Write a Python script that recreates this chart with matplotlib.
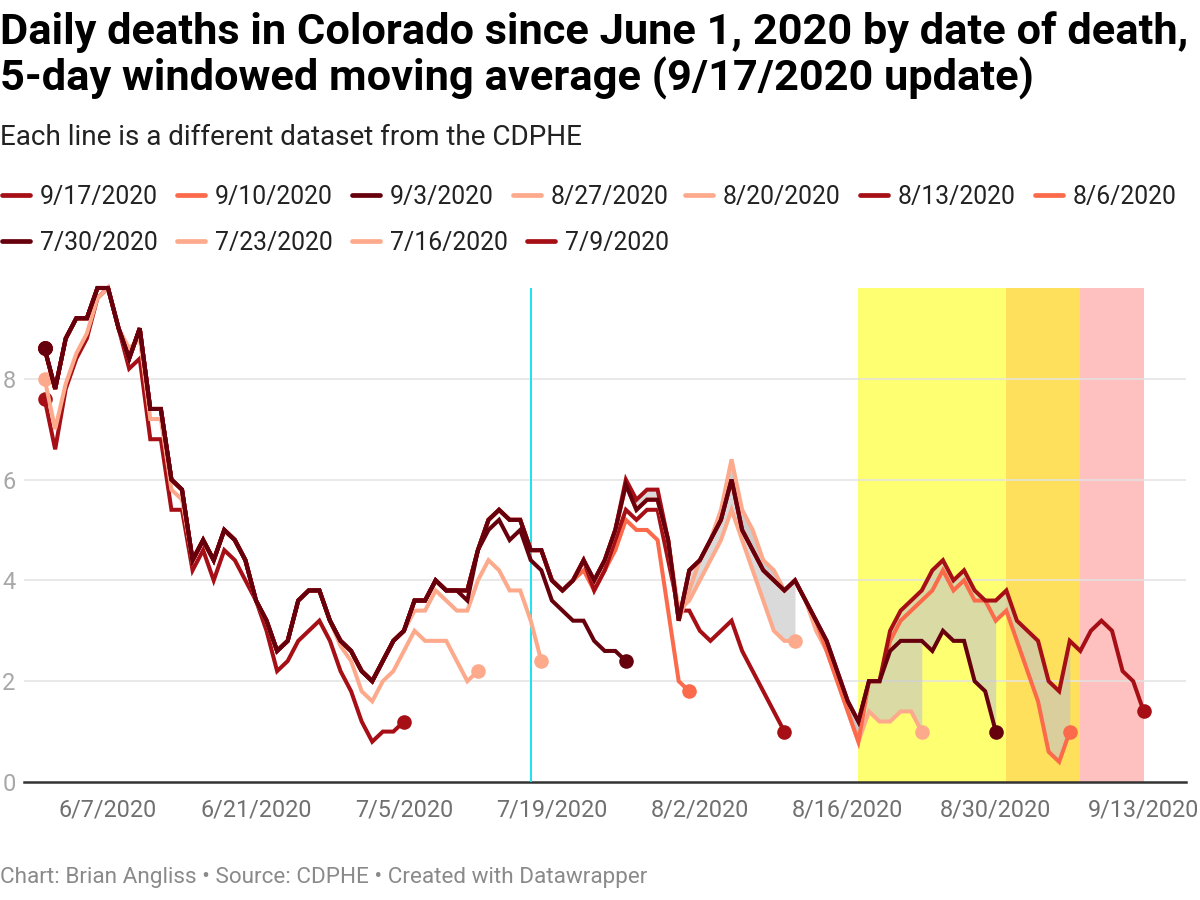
import matplotlib
matplotlib.use("Agg")
import matplotlib.pyplot as plt
import matplotlib.dates as mdates
from matplotlib.lines import Line2D
import pandas as pd

plt.rcParams['font.family'] = ['Roboto', 'DejaVu Sans']

# ---------------- data ----------------
start_date = "2020-06-01"

release_labels = ["9/17/2020", "9/10/2020", "9/3/2020", "8/27/2020", "8/20/2020",
                  "8/13/2020", "8/6/2020", "7/30/2020", "7/23/2020", "7/16/2020", "7/9/2020"]

s0917 = [8.6, 7.8, 8.8, 9.2, 9.2, 9.8, 9.8, 9.0, 8.4, 9.0,
         7.4, 7.4, 6.0, 5.8, 4.4, 4.8, 4.4, 5.0, 4.8, 4.4,
         3.6, 3.2, 2.6, 2.8, 3.6, 3.8, 3.8, 3.2, 2.8, 2.6,
         2.2, 2.0, 2.4, 2.8, 3.0, 3.6, 3.6, 4.0, 3.8, 3.8,
         3.8, 4.6, 5.2, 5.4, 5.2, 5.2, 4.6, 4.6, 4.0, 3.8,
         4.0, 4.4, 4.0, 4.4, 5.0, 6.0, 5.6, 5.8, 5.8, 4.8,
         3.2, 4.2, 4.4, 4.8, 5.2, 6.0, 5.0, 4.6, 4.2, 4.0,
         3.8, 4.0, 3.6, 3.2, 2.8, 2.2, 1.6, 1.2, 2.0, 2.0,
         3.0, 3.4, 3.6, 3.8, 4.2, 4.4, 4.0, 4.2, 3.8, 3.6,
         3.6, 3.8, 3.2, 3.0, 2.8, 2.0, 1.8, 2.8, 2.6, 3.0,
         3.2, 3.0, 2.2, 2.0, 1.4]

s0910 = [8.6, 7.8, 8.8, 9.2, 9.2, 9.8, 9.8, 9.0, 8.4, 9.0,
         7.4, 7.4, 6.0, 5.8, 4.4, 4.8, 4.4, 5.0, 4.8, 4.4,
         3.6, 3.2, 2.6, 2.8, 3.6, 3.8, 3.8, 3.2, 2.8, 2.6,
         2.2, 2.0, 2.4, 2.8, 3.0, 3.6, 3.6, 4.0, 3.8, 3.8,
         3.8, 4.6, 5.2, 5.4, 5.2, 5.2, 4.6, 4.6, 4.0, 3.8,
         4.0, 4.4, 4.0, 4.4, 5.0, 5.9, 5.4, 5.6, 5.6, 4.8,
         3.2, 4.2, 4.4, 4.8, 5.2, 6.0, 5.0, 4.6, 4.2, 4.0,
         3.8, 4.0, 3.6, 3.2, 2.6, 2.0, 1.4, 0.8, 2.0, 2.0,
         2.8, 3.2, 3.4, 3.6, 3.8, 4.2, 3.8, 4.0, 3.6, 3.6,
         3.2, 3.4, 2.8, 2.2, 1.6, 0.6, 0.4, 1.0]

s0903 = [8.6, 7.8, 8.8, 9.2, 9.2, 9.8, 9.8, 9.0, 8.4, 9.0,
         7.4, 7.4, 6.0, 5.8, 4.4, 4.8, 4.4, 5.0, 4.8, 4.4,
         3.6, 3.2, 2.6, 2.8, 3.6, 3.8, 3.8, 3.2, 2.8, 2.6,
         2.2, 2.0, 2.4, 2.8, 3.0, 3.6, 3.6, 4.0, 3.8, 3.8,
         3.8, 4.6, 5.2, 5.4, 5.2, 5.2, 4.6, 4.6, 4.0, 3.8,
         4.0, 4.4, 4.0, 4.4, 5.0, 5.9, 5.4, 5.6, 5.6, 4.8,
         3.2, 4.2, 4.4, 4.8, 5.2, 6.0, 5.0, 4.6, 4.2, 4.0,
         3.8, 4.0, 3.6, 3.2, 2.8, 2.2, 1.6, 1.2, 2.0, 2.0,
         2.6, 2.8, 2.8, 2.8, 2.6, 3.0, 2.8, 2.8, 2.0, 1.8,
         1.0]

s0827 = [8.6, 7.8, 8.8, 9.2, 9.2, 9.8, 9.8, 9.0, 8.4, 9.0,
         7.4, 7.4, 6.0, 5.8, 4.4, 4.8, 4.4, 5.0, 4.8, 4.4,
         3.6, 3.2, 2.6, 2.8, 3.6, 3.8, 3.8, 3.2, 2.8, 2.6,
         2.2, 2.0, 2.4, 2.8, 3.0, 3.6, 3.6, 4.0, 3.8, 3.8,
         3.8, 4.6, 5.2, 5.4, 5.2, 5.2, 4.6, 4.6, 4.0, 3.8,
         4.0, 4.4, 4.0, 4.4, 5.0, 5.9, 5.4, 5.6, 5.6, 4.8,
         3.2, 3.8, 4.4, 4.8, 5.4, 6.4, 5.4, 5.0, 4.4, 4.2,
         3.8, 4.0, 3.6, 3.0, 2.6, 2.0, 1.4, 0.8, 1.4, 1.2,
         1.2, 1.4, 1.4, 1.0]

s0820 = [8.6, 7.8, 8.8, 9.2, 9.2, 9.8, 9.8, 9.0, 8.4, 9.0,
         7.4, 7.4, 6.0, 5.8, 4.4, 4.8, 4.4, 5.0, 4.8, 4.4,
         3.6, 3.2, 2.6, 2.8, 3.6, 3.8, 3.8, 3.2, 2.8, 2.6,
         2.2, 2.0, 2.4, 2.8, 3.0, 3.6, 3.6, 4.0, 3.8, 3.8,
         3.8, 4.6, 5.2, 5.4, 5.2, 5.2, 4.6, 4.6, 4.0, 3.8,
         4.0, 4.4, 4.0, 4.4, 5.0, 5.9, 5.4, 5.6, 5.6, 4.8,
         3.4, 3.6, 4.0, 4.4, 4.8, 5.4, 4.8, 4.2, 3.6, 3.0,
         2.8, 2.8]

s0813 = [8.6, 7.8, 8.8, 9.2, 9.2, 9.8, 9.8, 9.0, 8.4, 9.0,
         7.4, 7.4, 6.0, 5.8, 4.4, 4.8, 4.4, 5.0, 4.8, 4.4,
         3.6, 3.2, 2.6, 2.8, 3.6, 3.8, 3.8, 3.2, 2.8, 2.6,
         2.2, 2.0, 2.4, 2.8, 3.0, 3.6, 3.6, 4.0, 3.8, 3.8,
         3.8, 4.6, 5.2, 5.4, 5.2, 5.2, 4.6, 4.6, 4.0, 3.8,
         4.0, 4.4, 3.8, 4.2, 4.8, 5.4, 5.2, 5.4, 5.4, 4.4,
         3.4, 3.4, 3.0, 2.8, 3.0, 3.2, 2.6, 2.2, 1.8, 1.4,
         1.0]

s0806 = [8.6, 7.8, 8.8, 9.2, 9.2, 9.8, 9.8, 9.0, 8.4, 9.0,
         7.4, 7.4, 6.0, 5.8, 4.4, 4.8, 4.4, 5.0, 4.8, 4.4,
         3.6, 3.2, 2.6, 2.8, 3.6, 3.8, 3.8, 3.2, 2.8, 2.6,
         2.2, 2.0, 2.4, 2.8, 3.0, 3.6, 3.6, 4.0, 3.8, 3.8,
         3.8, 4.6, 5.2, 5.4, 5.2, 5.2, 4.6, 4.6, 4.0, 3.8,
         4.0, 4.2, 3.8, 4.2, 4.6, 5.2, 5.0, 5.0, 4.8, 3.4,
         2.0, 1.8]

s0730 = [8.6, 7.8, 8.8, 9.2, 9.2, 9.8, 9.8, 9.0, 8.4, 9.0,
         7.4, 7.4, 6.0, 5.8, 4.4, 4.8, 4.4, 5.0, 4.8, 4.4,
         3.6, 3.2, 2.6, 2.8, 3.6, 3.8, 3.8, 3.2, 2.8, 2.6,
         2.2, 2.0, 2.4, 2.8, 3.0, 3.6, 3.6, 4.0, 3.8, 3.8,
         3.6, 4.6, 5.0, 5.2, 4.8, 5.0, 4.4, 4.2, 3.6, 3.4,
         3.2, 3.2, 2.8, 2.6, 2.6, 2.4]

s0723 = [8.6, 7.8, 8.8, 9.2, 9.2, 9.8, 9.8, 9.0, 8.4, 9.0,
         7.4, 7.4, 6.0, 5.8, 4.4, 4.8, 4.4, 5.0, 4.8, 4.4,
         3.6, 3.2, 2.6, 2.8, 3.6, 3.8, 3.8, 3.2, 2.8, 2.6,
         2.2, 2.0, 2.4, 2.8, 3.0, 3.4, 3.4, 3.8, 3.6, 3.4,
         3.4, 4.0, 4.4, 4.2, 3.8, 3.8, 3.2, 2.4]

s0716 = [8.0, 7.0, 7.9, 8.5, 8.9, 9.6, 9.8, 9.0, 8.6, 8.8,
         7.2, 7.2, 5.8, 5.6, 4.4, 4.8, 4.4, 5.0, 4.8, 4.4,
         3.6, 3.2, 2.6, 2.8, 3.6, 3.8, 3.8, 3.2, 2.7, 2.4,
         1.8, 1.6, 2.0, 2.2, 2.6, 3.0, 2.8, 2.8, 2.8, 2.4,
         2.0, 2.2]

s0709 = [7.6, 6.6, 7.8, 8.4, 8.8, 9.6, 9.8, 9.0, 8.2, 8.4,
         6.8, 6.8, 5.4, 5.4, 4.2, 4.6, 4.0, 4.6, 4.4, 4.0,
         3.6, 3.0, 2.2, 2.4, 2.8, 3.0, 3.2, 2.8, 2.2, 1.8,
         1.2, 0.8, 1.0, 1.0, 1.2]

# highlighted periods and marker line
band_starts = ["2020-08-17", "2020-08-31", "2020-09-07"]
band_ends = ["2020-08-31", "2020-09-07", "2020-09-13"]
marker_date = "2020-07-17"

tick_dates = ["2020-06-07", "2020-06-21", "2020-07-05", "2020-07-19",
              "2020-08-02", "2020-08-16", "2020-08-30", "2020-09-13"]
tick_labels = ["6/7/2020", "6/21/2020", "7/5/2020", "7/19/2020",
               "8/2/2020", "8/16/2020", "8/30/2020", "9/13/2020"]
y_ticks = [0, 2, 4, 6, 8]

# ---------------- styles ----------------
RED = "#a50f15"
SALMON = "#fb6a4a"
DARK = "#67000d"
LIGHT = "#fdaa8c"
band_colors = ["#ffff72", "#ffe05c", "#ffc0c0"]

series_values = [s0917, s0910, s0903, s0827, s0820, s0813, s0806, s0730, s0723, s0716, s0709]
series_colors = [RED, SALMON, DARK, LIGHT, LIGHT, RED, SALMON, DARK, LIGHT, LIGHT, RED]
# drawing order (bottom -> top) by index in release list
draw_order = [10, 9, 8, 6, 5, 4, 3, 1, 0, 7, 2]
fill_pairs = [(0, 1), (1, 2), (2, 3), (3, 4)]

W, H = 1200, 900
fig = plt.figure(figsize=(12, 9), dpi=100)
fig.patch.set_facecolor("white")

ax_left, ax_right, ax_top, ax_bottom = 24, 1186, 288, 782
ax = fig.add_axes([ax_left / W, 1 - ax_bottom / H, (ax_right - ax_left) / W, (ax_bottom - ax_top) / H])

def xdates(n):
    return mdates.date2num(pd.date_range(start_date, periods=n, freq="D"))

t0 = mdates.date2num(pd.Timestamp(start_date))
ax.set_xlim(t0 - 1.95, t0 + 108.0)
ax.set_ylim(0, 9.8)

# bands
for s, e, c in zip(band_starts, band_ends, band_colors):
    ax.axvspan(mdates.date2num(pd.Timestamp(s)), mdates.date2num(pd.Timestamp(e)),
               color=c, lw=0, zorder=0)

# grid
for yv in y_ticks[1:]:
    ax.axhline(yv, color="#e3e3e3", lw=1.1, zorder=1)
ax.axhline(0, color="#333333", lw=1.8, zorder=2, clip_on=False)

# cyan line
ax.axvline(mdates.date2num(pd.Timestamp(marker_date)), color="#19e3ee", lw=1.4, zorder=2)

# fills between consecutive datasets
for a, b in fill_pairs:
    va, vb = series_values[a], series_values[b]
    n = min(len(va), len(vb))
    ax.fill_between(xdates(n), va[:n], vb[:n], color="#c4c4c4", alpha=0.62, lw=0, zorder=3)

# lines
for z, i in enumerate(draw_order):
    v = series_values[i]
    x = xdates(len(v))
    c = series_colors[i]
    ax.plot(x, v, color=c, lw=2.9, solid_joinstyle="miter", zorder=4 + z, clip_on=False)
    ax.plot([x[0], x[-1]], [v[0], v[-1]], "o", color=c, ms=10.5, mew=0, zorder=4 + z, clip_on=False)

for sp in ax.spines.values():
    sp.set_visible(False)

ax.set_xticks([mdates.date2num(pd.Timestamp(d)) for d in tick_dates])
ax.set_xticklabels(tick_labels, fontsize=16.8, color="#707070")
ax.tick_params(axis="x", length=0, pad=12)
ax.set_yticks(y_ticks)
ax.set_yticklabels([str(t) for t in y_ticks], fontsize=17, color="#a8a8a8")
ax.tick_params(axis="y", length=0, pad=6)

# ---------------- text ----------------
def fy(px):
    return 1 - px / H

fig.text(0, fy(44), "Daily deaths in Colorado since June 1, 2020 by date of death,",
         fontsize=31.2, fontweight="bold", color="#000000", va="baseline", ha="left")
fig.text(0, fy(91), "5-day windowed moving average (9/17/2020 update)",
         fontsize=31.2, fontweight="bold", color="#000000", va="baseline", ha="left")
fig.text(0, fy(145), "Each line is a different dataset from the CDPHE",
         fontsize=20.1, color="#222222", va="baseline", ha="left")

legend_x = [0, 175, 350, 511, 683, 858, 1033, 0, 175, 350, 525]
legend_row = [0, 0, 0, 0, 0, 0, 0, 1, 1, 1, 1]
row_center = [195, 241]
for i, lab in enumerate(release_labels):
    x0 = legend_x[i] + 2
    yc = row_center[legend_row[i]]
    fig.add_artist(Line2D([x0 / W, (x0 + 28) / W], [fy(yc), fy(yc)], transform=fig.transFigure,
                          color=series_colors[i], lw=3.4, solid_capstyle="round"))
    fig.text((legend_x[i] + 40) / W, fy(yc + 9), lab, fontsize=17.8, color="#222222",
             va="baseline", ha="left")

fig.text(0, fy(883), "Chart: Brian Angliss \u2022 Source: CDPHE \u2022 Created with Datawrapper",
         fontsize=16.2, color="#8a8a8a", va="baseline", ha="left")

fig.savefig("out.png", dpi=100, facecolor="white")
